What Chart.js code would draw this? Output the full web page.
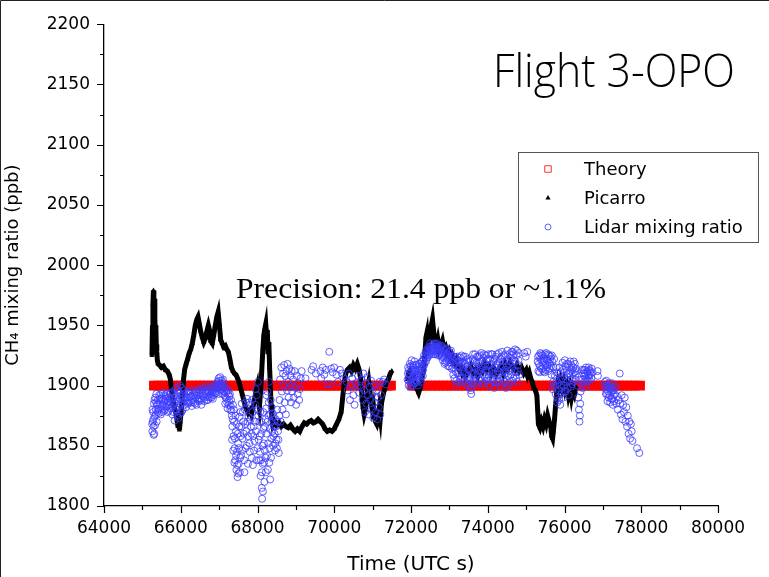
<!DOCTYPE html>
<html>
<head>
<meta charset="utf-8">
<script src="https://cdn.jsdelivr.net/npm/chart.js@4.4.0/dist/chart.umd.min.js"></script>
<style>
html, body { margin: 0; padding: 0; background: #fff; }
canvas { display: block; }
</style>
</head>
<body>
<canvas id="myChart" width="769" height="577"></canvas>
<script>
// Axis ranges (ticks every 1000 s / 25 ppb, labels every 2000 s / 50 ppb)
const timeRange = [64000, 80000];
const ratioRange = [1800, 2200];
const timeStep = 1000, timeLabelStep = 2000;
const ratioStep = 25, ratioLabelStep = 50;

// Theory: constant mixing ratio
const theoryLevel = 1900;
const theoryTime = [
  65300, 65400, 65500, 65600, 65700, 65800, 65900, 66000, 66100, 66200, 66300, 66400,
  66500, 66600, 66700, 66800, 66900, 67000, 67100, 67200, 67300, 67400, 67500, 67600,
  67700, 67800, 67900, 68000, 68100, 68200, 68300, 68400, 68500, 68600, 68700, 68800,
  68900, 69000, 69100, 69200, 69300, 69400, 69500, 69600, 69700, 69800, 69900, 70000,
  70100, 70200, 70300, 70400, 70500, 70600, 70700, 70800, 70900, 71000, 71100, 71200,
  71300, 71400, 71480,
  72030, 72130, 72230, 72330, 72430, 72530, 72630, 72730, 72830, 72930, 73030, 73130,
  73230, 73330, 73430, 73530, 73630, 73730, 73830, 73930, 74030, 74130, 74230, 74330,
  74430, 74530, 74630, 74730, 74830, 74930, 75030, 75130, 75230, 75330, 75430, 75530,
  75630, 75730, 75830, 75930, 76030, 76130, 76230, 76330, 76430, 76530, 76630, 76730,
  76830, 76930, 77030, 77130, 77230, 77330, 77430, 77530, 77630, 77730, 77830, 77970
];

// Picarro in-situ [time, ppb]; null = data gap
const picarro = [
  [65250,1925],[65262,1948],[65275,1968],[65288,1979],[65300,1962],[65312,1972],[65325,1955],
  [65338,1944],[65350,1950],[65362,1934],[65375,1928],[65390,1921],[65410,1918],[65450,1917],
  [65500,1915],[65550,1916],[65600,1913],[65650,1912],[65700,1909],[65730,1905],[65760,1896],
  [65790,1889],[65820,1884],[65850,1880],[65880,1876],[65905,1871],[65925,1866],[65945,1874],
  [65965,1863],[65985,1870],[66010,1878],[66040,1889],[66070,1904],[66100,1913],[66140,1918],
  [66180,1922],[66220,1927],[66260,1930],[66300,1935],[66340,1942],[66380,1950],[66420,1955],
  [66450,1957],[66480,1952],[66520,1945],[66560,1940],[66600,1936],[66640,1939],[66680,1945],
  [66720,1950],[66750,1946],[66780,1937],[66820,1935],[66860,1942],[66900,1950],[66940,1957],
  [66975,1961],[67005,1951],[67040,1938],[67080,1935],[67120,1932],[67160,1933],[67200,1930],
  [67240,1928],[67280,1922],[67320,1915],[67360,1912],[67400,1910],[67440,1909],[67480,1906],
  [67520,1903],[67560,1898],[67600,1893],[67640,1888],[67680,1883],[67720,1880],[67760,1877],
  [67800,1879],[67840,1876],[67880,1882],[67920,1888],[67960,1895],[67990,1899],[68020,1888],
  [68050,1882],[68080,1895],[68110,1912],[68140,1930],[68165,1942],[68190,1947],[68215,1951],
  [68235,1941],[68255,1946],[68275,1928],[68295,1936],[68315,1915],[68335,1900],[68355,1884],
  [68375,1872],[68400,1867],[68450,1870],[68500,1867],[68560,1869],[68620,1866],[68680,1868],
  [68740,1866],[68800,1865],[68860,1867],[68920,1864],[68980,1862],[69040,1864],[69100,1862],
  [69160,1866],[69220,1869],[69280,1868],[69340,1870],[69400,1871],[69460,1869],[69520,1870],
  [69580,1872],[69640,1870],[69700,1868],[69760,1864],[69820,1862],[69880,1863],[69940,1862],
  [70000,1864],[70060,1868],[70120,1872],[70180,1878],[70220,1890],[70260,1902],[70300,1910],
  [70340,1913],[70400,1915],[70450,1912],[70500,1917],[70550,1914],[70600,1918],[70650,1913],
  [70690,1905],[70720,1893],[70750,1882],[70780,1876],[70810,1880],[70840,1888],[70870,1898],
  [70900,1903],[70930,1895],[70960,1886],[70990,1880],[71020,1884],[71050,1876],[71080,1870],
  [71110,1868],[71140,1872],[71170,1880],[71200,1873],[71230,1885],[71260,1890],[71300,1896],
  [71340,1900],[71380,1904],[71420,1906],[71460,1910],[71500,1912],
  [71700,null],
  [71910,1905],[71940,1910],[71970,1912],[72000,1908],[72040,1903],[72080,1906],[72120,1900],
  [72160,1897],[72200,1894],[72240,1898],[72280,1905],[72320,1912],[72360,1925],[72390,1940],
  [72410,1943],[72440,1928],[72470,1935],[72500,1945],[72530,1950],[72560,1955],[72590,1945],
  [72620,1935],[72660,1932],[72700,1938],[72740,1930],[72780,1933],[72820,1937],[72860,1930],
  [72900,1932],[72940,1927],[72980,1929],[73020,1923],[73060,1925],[73100,1920],[73140,1918],
  [73180,1921],[73220,1916],[73260,1913],[73300,1915],[73340,1910],[73380,1912],[73420,1908],
  [73460,1910],[73500,1912],[73560,1916],[73620,1910],[73680,1913],[73740,1908],[73800,1915],
  [73860,1912],[73920,1918],[73980,1913],[74040,1916],[74100,1910],[74160,1914],[74220,1909],
  [74280,1912],[74340,1916],[74400,1910],[74460,1918],[74520,1914],[74580,1919],[74640,1915],
  [74700,1913],[74760,1917],[74820,1912],[74880,1915],[74940,1910],[75000,1913],[75040,1908],
  [75080,1911],[75120,1906],[75160,1903],[75200,1898],[75240,1896],[75280,1892],[75300,1880],
  [75320,1868],[75360,1865],[75400,1870],[75440,1866],[75480,1872],[75520,1868],[75560,1875],
  [75600,1870],[75640,1866],[75665,1858],[75690,1856],[75710,1862],[75740,1872],[75770,1884],
  [75800,1895],[75830,1902],[75860,1898],[75900,1904],[75940,1898],[75980,1903],[76020,1896],
  [76060,1900],[76100,1892],[76140,1898],[76180,1890],[76220,1897],[76260,1893],[76300,1899]
];

// Lidar retrieved mixing ratio [time, ppb]
const lidar = [
  [65255,1868],[65260,1862],[65265,1880],[65270,1870],[65280,1878],[65285,1872],[65290,1866],
  [65295,1859],[65300,1885],[65310,1860],[65315,1888],[65320,1874],[65330,1867],[65335,1890],
  [65345,1876],[65350,1880],[65358,1886],[65365,1893],[65372,1870],[65380,1884],[65390,1878],
  [65400,1888],[65410,1884],[65420,1880],[65430,1877],[65440,1892],[65450,1889],[65460,1885],
  [65470,1881],[65480,1876],[65490,1893],[65500,1889],[65510,1878],[65520,1883],[65530,1888],
  [65540,1894],[65550,1884],[65560,1879],[65570,1892],[65580,1887],[65590,1880],[65600,1891],
  [65610,1889],[65620,1882],[65630,1893],[65640,1886],[65650,1883],[65660,1878],[65670,1887],
  [65680,1890],[65690,1879],[65700,1884],[65710,1889],[65720,1893],[65730,1886],[65740,1881],
  [65750,1894],[65760,1888],[65770,1882],[65780,1876],[65790,1890],[65800,1895],[65810,1878],
  [65820,1884],[65830,1893],[65840,1871],[65850,1886],[65860,1890],[65870,1880],[65880,1898],
  [65890,1892],[65900,1880],[65910,1875],[65920,1887],[65930,1896],[65940,1873],[65950,1883],
  [65960,1894],[65970,1889],[65980,1900],[65990,1877],[66000,1885],[66010,1891],[66020,1878],
  [66030,1898],[66040,1892],[66050,1880],[66060,1886],[66070,1889],[66080,1896],[66090,1893],
  [66100,1884],[66112,1888],[66125,1891],[66137,1882],[66150,1887],[66162,1890],[66175,1895],
  [66187,1886],[66200,1885],[66212,1894],[66225,1890],[66237,1887],[66250,1893],[66262,1891],
  [66275,1886],[66287,1883],[66300,1896],[66312,1892],[66325,1888],[66337,1886],[66350,1892],
  [66362,1895],[66375,1885],[66387,1890],[66400,1894],[66412,1884],[66425,1889],[66437,1892],
  [66450,1897],[66462,1888],[66475,1887],[66487,1896],[66500,1892],[66512,1889],[66525,1895],
  [66537,1884],[66550,1888],[66562,1897],[66575,1893],[66587,1891],[66600,1898],[66612,1887],
  [66625,1890],[66637,1895],[66650,1894],[66662,1899],[66675,1888],[66687,1892],[66700,1896],
  [66712,1888],[66725,1891],[66737,1895],[66750,1899],[66762,1890],[66775,1893],[66787,1898],
  [66800,1890],[66812,1894],[66825,1897],[66837,1889],[66850,1892],[66862,1896],[66875,1900],
  [66887,1893],[66900,1895],[66912,1901],[66925,1898],[66937,1894],[66950,1903],[66960,1899],
  [66970,1898],[66980,1893],[66990,1906],[67000,1904],[67010,1901],[67020,1897],[67030,1907],
  [67040,1902],[67050,1896],[67060,1900],[67070,1904],[67080,1893],[67090,1899],[67100,1905],
  [67110,1902],[67120,1898],[67130,1895],[67140,1892],[67150,1898],[67160,1885],[67170,1890],
  [67180,1894],[67190,1896],[67200,1889],[67210,1886],[67220,1881],[67230,1893],[67240,1896],
  [67250,1884],[67260,1887],[67270,1891],[67280,1893],[67290,1880],[67300,1883],[67310,1888],
  [67320,1879],[67330,1875],[67338,1855],[67345,1866],[67352,1872],[67360,1884],[67368,1846],
  [67375,1858],[67383,1880],[67390,1870],[67398,1836],[67405,1848],[67412,1856],[67420,1838],
  [67428,1875],[67435,1862],[67442,1842],[67450,1830],[67458,1868],[67465,1845],[67472,1834],
  [67480,1824],[67488,1860],[67495,1852],[67502,1827],[67510,1835],[67518,1848],[67525,1866],
  [67532,1874],[67540,1828],[67548,1840],[67555,1878],[67562,1858],[67570,1842],[67580,1866],
  [67590,1885],[67600,1846],[67610,1856],[67620,1878],[67630,1870],[67640,1860],[67650,1838],
  [67660,1828],[67670,1880],[67680,1868],[67690,1848],[67700,1886],[67710,1862],[67720,1850],
  [67730,1889],[67740,1870],[67750,1835],[67760,1858],[67770,1874],[67780,1886],[67790,1852],
  [67800,1845],[67810,1884],[67820,1872],[67830,1866],[67840,1860],[67850,1840],[67860,1888],
  [67870,1878],[67880,1834],[67890,1858],[67900,1866],[67910,1846],[67920,1854],[67930,1870],
  [67940,1884],[67950,1897],[67960,1862],[67970,1838],[67980,1892],[67990,1880],[68000,1848],
  [68010,1903],[68020,1875],[68030,1855],[68040,1838],[68050,1870],[68058,1858],[68065,1845],
  [68072,1878],[68080,1825],[68088,1838],[68095,1860],[68102,1870],[68110,1815],[68115,1828],
  [68120,1806],[68128,1850],[68135,1835],[68142,1812],[68150,1878],[68158,1864],[68165,1852],
  [68172,1836],[68180,1820],[68188,1846],[68195,1866],[68202,1872],[68210,1840],[68218,1828],
  [68225,1881],[68232,1892],[68240,1860],[68248,1842],[68255,1895],[68262,1870],[68270,1830],
  [68278,1852],[68285,1875],[68292,1886],[68300,1903],[68308,1836],[68315,1848],[68322,1864],
  [68330,1822],[68338,1876],[68345,1888],[68352,1840],[68360,1856],[68368,1882],[68375,1870],
  [68385,1862],[68395,1877],[68405,1850],[68415,1858],[68425,1874],[68435,1866],[68445,1860],
  [68455,1846],[68465,1852],[68475,1872],[68485,1866],[68495,1855],[68505,1848],[68515,1880],
  [68525,1870],[68535,1862],[68545,1855],[68555,1844],[68565,1875],[68575,1888],[68590,1905],
  [68605,1870],[68620,1915],[68635,1895],[68650,1880],[68665,1910],[68680,1900],[68695,1917],
  [68710,1886],[68725,1908],[68740,1876],[68755,1912],[68770,1896],[68785,1918],[68800,1903],
  [68815,1890],[68830,1914],[68845,1899],[68860,1908],[68875,1886],[68890,1912],[68905,1895],
  [68925,1905],[68945,1890],[68965,1912],[68985,1898],[69005,1884],[69025,1908],[69045,1893],
  [69065,1902],[69085,1888],[69105,1897],[69125,1906],[69150,1912],[69250,1906],[69410,1913],
  [69450,1916],[69520,1910],[69640,1912],[69660,1906],[69700,1915],[69740,1909],[69780,1913],
  [69820,1901],[69870,1928],[69880,1901],[69920,1914],[69960,1911],[70000,1915],[70060,1909],
  [70100,1903],[70150,1913],[70200,1910],[70240,1906],[70320,1903],[70350,1896],[70380,1910],
  [70410,1888],[70440,1900],[70470,1906],[70500,1892],[70530,1884],[70560,1902],[70590,1899],
  [70620,1908],[70650,1894],[70680,1898],[70710,1905],[70740,1888],[70760,1910],[70780,1896],
  [70800,1878],[70820,1902],[70840,1885],[70860,1907],[70880,1892],[70900,1876],[70920,1899],
  [70940,1888],[70960,1904],[70980,1880],[71000,1894],[71020,1873],[71040,1900],[71060,1886],
  [71080,1878],[71100,1896],[71120,1872],[71140,1890],[71160,1882],[71180,1903],[71200,1876],
  [71220,1892],[71260,1903],[71300,1905],[71340,1901],
  [71910,1905],[71918,1910],[71925,1915],[71932,1904],[71940,1900],[71948,1913],[71955,1910],
  [71962,1907],[71970,1918],[71978,1899],[71985,1903],[71992,1916],[72000,1912],[72008,1905],
  [72015,1921],[72022,1913],[72030,1906],[72038,1917],[72045,1900],[72052,1907],[72060,1915],
  [72068,1902],[72075,1908],[72082,1913],[72090,1920],[72098,1909],[72105,1902],[72112,1917],
  [72120,1912],[72128,1907],[72135,1904],[72142,1912],[72150,1917],[72158,1903],[72165,1909],
  [72172,1915],[72180,1900],[72188,1908],[72195,1913],[72202,1918],[72210,1906],[72218,1912],
  [72225,1918],[72232,1905],[72240,1910],[72248,1914],[72255,1903],[72262,1908],[72270,1916],
  [72278,1920],[72285,1911],[72292,1914],[72300,1920],[72308,1908],[72315,1913],[72322,1917],
  [72330,1922],[72338,1925],[72345,1917],[72355,1919],[72370,1924],[72380,1928],[72390,1920],
  [72400,1923],[72410,1927],[72420,1930],[72430,1923],[72440,1926],[72450,1929],[72460,1932],
  [72470,1925],[72480,1928],[72490,1931],[72500,1935],[72510,1927],[72520,1930],[72530,1933],
  [72540,1926],[72550,1928],[72560,1934],[72570,1931],[72580,1929],[72590,1926],[72600,1935],
  [72610,1932],[72620,1930],[72630,1929],[72640,1926],[72650,1934],[72660,1932],[72670,1927],
  [72680,1935],[72690,1931],[72700,1928],[72710,1925],[72720,1933],[72730,1930],[72740,1926],
  [72750,1928],[72760,1931],[72770,1933],[72780,1927],[72790,1924],[72800,1933],[72810,1929],
  [72820,1925],[72830,1921],[72840,1931],[72850,1927],[72860,1923],[72870,1918],[72880,1929],
  [72890,1925],[72900,1919],[72910,1930],[72920,1926],[72930,1920],[72940,1931],[72950,1926],
  [72960,1922],[72970,1916],[72980,1928],[72990,1923],[73000,1916],[73010,1928],[73020,1924],
  [73030,1919],[73040,1929],[73050,1925],[73060,1914],[73070,1921],[73080,1922],[73090,1915],
  [73100,1909],[73110,1924],[73120,1918],[73130,1906],[73140,1924],[73150,1918],[73160,1912],
  [73170,1900],[73180,1904],[73190,1922],[73200,1916],[73210,1910],[73220,1924],[73230,1920],
  [73240,1910],[73250,1903],[73260,1920],[73270,1916],[73280,1906],[73290,1923],[73300,1918],
  [73310,1907],[73320,1925],[73330,1919],[73340,1903],[73350,1912],[73360,1915],[73370,1924],
  [73380,1920],[73390,1904],[73400,1911],[73410,1918],[73420,1924],[73430,1909],[73440,1902],
  [73450,1921],[73460,1916],[73470,1900],[73480,1922],[73490,1914],[73500,1908],[73510,1906],
  [73520,1913],[73530,1920],[73540,1904],[73550,1898],[73560,1896],[73570,1893],[73580,1902],
  [73590,1910],[73600,1916],[73610,1922],[73620,1926],[73630,1904],[73640,1910],[73650,1916],
  [73660,1920],[73670,1926],[73680,1903],[73690,1908],[73700,1914],[73710,1919],[73720,1924],
  [73730,1901],[73740,1910],[73750,1924],[73760,1918],[73770,1912],[73780,1904],[73790,1920],
  [73800,1925],[73810,1905],[73820,1913],[73830,1927],[73840,1920],[73850,1915],[73860,1902],
  [73870,1909],[73880,1916],[73890,1923],[73900,1926],[73910,1902],[73920,1908],[73930,1918],
  [73940,1913],[73950,1925],[73960,1921],[73970,1912],[73980,1906],[73990,1904],[74000,1916],
  [74010,1922],[74020,1926],[74030,1908],[74040,1912],[74050,1917],[74060,1922],[74070,1900],
  [74080,1905],[74090,1926],[74100,1918],[74110,1913],[74120,1926],[74130,1906],[74140,1910],
  [74150,1920],[74160,1903],[74170,1898],[74180,1922],[74190,1915],[74200,1910],[74210,1924],
  [74220,1917],[74230,1903],[74240,1926],[74250,1918],[74260,1912],[74270,1909],[74280,1903],
  [74290,1927],[74300,1920],[74310,1911],[74320,1904],[74330,1922],[74340,1915],[74350,1900],
  [74360,1924],[74370,1928],[74380,1908],[74390,1916],[74400,1920],[74410,1906],[74420,1912],
  [74430,1925],[74440,1903],[74450,1913],[74460,1926],[74470,1898],[74480,1910],[74490,1920],
  [74500,1916],[74510,1929],[74520,1922],[74530,1908],[74540,1900],[74550,1918],[74560,1912],
  [74570,1926],[74580,1920],[74590,1903],[74600,1909],[74610,1923],[74620,1928],[74630,1914],
  [74640,1904],[74650,1928],[74660,1918],[74670,1906],[74680,1926],[74690,1921],[74700,1912],
  [74710,1930],[74720,1920],[74730,1911],[74740,1906],[74750,1925],[74760,1929],[74770,1903],
  [74780,1912],[74790,1917],[74800,1921],[74810,1927],[74820,1909],[74950,1927],[74990,1924],
  [75030,1928],[75300,1920],[75310,1924],[75320,1912],[75330,1918],[75340,1925],[75350,1911],
  [75360,1916],[75370,1927],[75380,1922],[75390,1914],[75400,1926],[75410,1921],[75420,1914],
  [75430,1925],[75440,1919],[75450,1912],[75460,1923],[75470,1920],[75480,1911],[75490,1926],
  [75500,1917],[75510,1913],[75520,1927],[75530,1922],[75540,1915],[75550,1917],[75560,1921],
  [75570,1926],[75580,1912],[75590,1919],[75600,1925],[75610,1914],[75620,1918],[75630,1922],
  [75640,1924],[75650,1916],[75660,1909],[75670,1925],[75680,1920],[75690,1897],[75700,1903],
  [75710,1915],[75720,1900],[75730,1922],[75750,1908],[75760,1900],[75770,1893],[75780,1915],
  [75790,1911],[75800,1904],[75810,1886],[75820,1890],[75830,1902],[75840,1910],[75850,1896],
  [75860,1888],[75870,1915],[75880,1900],[75890,1884],[75900,1911],[75910,1905],[75920,1893],
  [75930,1898],[75940,1906],[75950,1919],[75960,1913],[75970,1890],[75980,1900],[75990,1908],
  [76000,1895],[76010,1921],[76020,1916],[76030,1895],[76040,1905],[76050,1912],[76060,1918],
  [76070,1903],[76080,1898],[76090,1918],[76100,1910],[76110,1892],[76120,1915],[76130,1910],
  [76140,1904],[76150,1920],[76160,1912],[76170,1899],[76180,1917],[76190,1913],[76200,1901],
  [76210,1906],[76220,1910],[76230,1915],[76240,1920],[76250,1903],[76260,1911],[76270,1918],
  [76280,1905],[76290,1909],[76300,1914],[76320,1912],[76340,1900],[76360,1890],[76375,1880],
  [76390,1870],[76400,1875],[76410,1885],[76420,1895],[76435,1905],[76450,1913],[76465,1898],
  [76480,1905],[76490,1910],[76500,1913],[76510,1903],[76520,1908],[76530,1913],[76540,1910],
  [76550,1906],[76560,1915],[76570,1899],[76580,1904],[76590,1911],[76600,1912],[76610,1904],
  [76620,1908],[76630,1915],[76640,1913],[76650,1908],[76660,1904],[76670,1912],[76680,1910],
  [76700,1906],[76710,1914],[76730,1911],[76860,1912],[76870,1908],[77050,1903],[77060,1900],
  [77070,1897],[77080,1893],[77090,1904],[77100,1899],[77110,1893],[77120,1887],[77130,1900],
  [77140,1895],[77150,1890],[77160,1902],[77170,1898],[77180,1892],[77190,1886],[77200,1898],
  [77210,1895],[77220,1889],[77230,1902],[77240,1896],[77250,1889],[77260,1884],[77270,1896],
  [77280,1892],[77290,1887],[77300,1898],[77310,1893],[77330,1899],[77350,1885],[77370,1891],
  [77390,1880],[77410,1888],[77440,1910],[77450,1885],[77470,1876],[77490,1892],[77510,1872],
  [77530,1884],[77550,1878],[77570,1890],[77590,1870],[77610,1882],[77630,1866],[77650,1875],
  [77670,1860],[77690,1870],[77710,1856],[77730,1868],[77750,1862],[77770,1854],[77890,1848],
  [77950,1844]
];

const toXY = pts => pts.map(p => ({ x: p[0], y: p[1] }));

// draw a text stretched to fit a given width
function fitText(ctx, text, font, left, right, baseline) {
  ctx.save();
  ctx.font = font;
  const w = ctx.measureText(text).width;
  ctx.translate(left, baseline);
  ctx.scale((right - left) / w, 1);
  ctx.textAlign = 'left';
  ctx.textBaseline = 'alphabetic';
  ctx.fillStyle = '#000';
  ctx.fillText(text, 0, 0);
  ctx.restore();
}

const decorations = {
  id: 'decorations',
  beforeDraw(chart) {
    const ctx = chart.ctx;
    ctx.save();
    ctx.fillStyle = '#fff';
    ctx.fillRect(0, 0, chart.width, chart.height);
    ctx.restore();
  },
  afterDraw(chart) {
    const ctx = chart.ctx;
    const xs = chart.scales.x, ys = chart.scales.y;
    ctx.save();
    ctx.strokeStyle = '#000';
    ctx.lineWidth = 1.2;
    ctx.beginPath();
    // major and minor tick marks, outside
    xs.ticks.forEach(t => {
      const px = Math.round(xs.getPixelForValue(t.value)) + 0.5;
      const len = t.value % timeLabelStep === 0 ? 7 : 4;
      ctx.moveTo(px, xs.top);
      ctx.lineTo(px, xs.top + len);
    });
    ys.ticks.forEach(t => {
      const py = Math.round(ys.getPixelForValue(t.value)) + 0.5;
      const len = t.value % ratioLabelStep === 0 ? 7 : 4;
      ctx.moveTo(ys.right - len, py);
      ctx.lineTo(ys.right, py);
    });
    ctx.stroke();

    // slide frame
    ctx.lineWidth = 1;
    ctx.strokeStyle = '#222';
    ctx.beginPath();
    ctx.moveTo(0.5, chart.height);
    ctx.lineTo(0.5, 0.5);
    ctx.lineTo(chart.width, 0.5);
    ctx.stroke();

    // legend box
    ctx.strokeStyle = '#555';
    ctx.strokeRect(518.5, 152.5, 240, 90);
    const legendStyle = [
      { pointStyle: 'rect', radius: 4.6, borderWidth: 1.2 },
      { pointStyle: 'triangle', radius: 3, borderWidth: 0 },
      { pointStyle: 'circle', radius: 3, borderWidth: 1 }
    ];
    ctx.font = '18px "DejaVu Sans"';
    ctx.textBaseline = 'middle';
    ctx.textAlign = 'left';
    chart.data.datasets.forEach((ds, i) => {
      const y = 169 + i * 29;
      ctx.save();
      ctx.fillStyle = ds.legendFill;
      ctx.strokeStyle = ds.legendStroke;
      Chart.helpers.drawPoint(ctx, legendStyle[i], 548, y);
      ctx.restore();
      ctx.fillStyle = '#000';
      ctx.fillText(ds.label, 584, y + 1);
    });
    ctx.restore();

    fitText(ctx, 'Flight 3-OPO', '300 46px "Open Sans"', 493, 735, 87);
    fitText(ctx, 'Precision: 21.4 ppb or ~1.1%', '30px "Liberation Serif"', 236, 606, 298);
  }
};

const tickFont = { family: 'DejaVu Sans', size: 17 };
const lidarBlue = 'rgba(60,60,255,0.8)';

const ctx = document.getElementById('myChart').getContext('2d');
const fluxChart = new Chart(ctx, {
  type: 'scatter',
  data: {
    datasets: [
      {
        label: 'Theory',
        data: theoryTime.map(t => ({ x: t, y: theoryLevel })),
        pointStyle: 'rect',
        pointRadius: 5,
        pointBorderWidth: 2.6,
        pointBorderColor: '#ff0000',
        pointBackgroundColor: '#ff0000',
        legendFill: 'rgba(0,0,0,0)',
        legendStroke: '#ff3030',
        showLine: false,
        order: 3
      },
      {
        label: 'Picarro',
        data: toXY(picarro),
        pointStyle: 'triangle',
        pointRadius: 3,
        pointBorderWidth: 0,
        pointBorderColor: '#000',
        pointBackgroundColor: '#000',
        legendFill: '#000',
        legendStroke: '#000',
        borderColor: '#000',
        borderWidth: 5,
        showLine: true,
        spanGaps: false,
        order: 2
      },
      {
        label: 'Lidar mixing ratio',
        data: toXY(lidar),
        pointStyle: 'circle',
        pointRadius: 3.5,
        pointBorderWidth: 1,
        pointBorderColor: lidarBlue,
        pointBackgroundColor: 'rgba(0,0,0,0)',
        legendFill: 'rgba(0,0,0,0)',
        legendStroke: lidarBlue,
        showLine: false,
        order: 1
      }
    ]
  },
  options: {
    responsive: false,
    animation: false,
    layout: { padding: { left: 0, top: 15, right: 51, bottom: 0 } },
    plugins: {
      legend: { display: false },
      tooltip: { enabled: false }
    },
    scales: {
      x: {
        type: 'linear',
        position: 'bottom',
        min: timeRange[0],
        max: timeRange[1],
        afterFit: s => { s.height = 71; },
        grid: { display: false, drawTicks: false },
        border: { display: true, color: '#000', width: 1.3 },
        ticks: {
          stepSize: timeStep,
          autoSkip: false,
          maxRotation: 0,
          minRotation: 0,
          padding: 12,
          color: '#000',
          font: tickFont,
          callback: v => v % timeLabelStep === 0 ? String(v) : ''
        },
        title: {
          display: true,
          text: 'Time (UTC s)',
          color: '#000',
          font: { family: 'DejaVu Sans', size: 20 },
          padding: { top: 0, bottom: 0 }
        }
      },
      y: {
        type: 'linear',
        min: ratioRange[0],
        max: ratioRange[1],
        afterFit: s => { s.width = 104; },
        grid: { display: false, drawTicks: false },
        border: { display: true, color: '#000', width: 1.3 },
        ticks: {
          stepSize: ratioStep,
          autoSkip: false,
          padding: 14,
          color: '#000',
          font: tickFont,
          callback: v => v % ratioLabelStep === 0 ? String(v) : ''
        },
        title: {
          display: true,
          text: 'CH₄ mixing ratio (ppb)',
          color: '#000',
          font: { family: 'DejaVu Sans', size: 18 },
          padding: { top: 3, bottom: 0 }
        }
      }
    }
  },
  plugins: [decorations]
});
</script>
</body>
</html>
